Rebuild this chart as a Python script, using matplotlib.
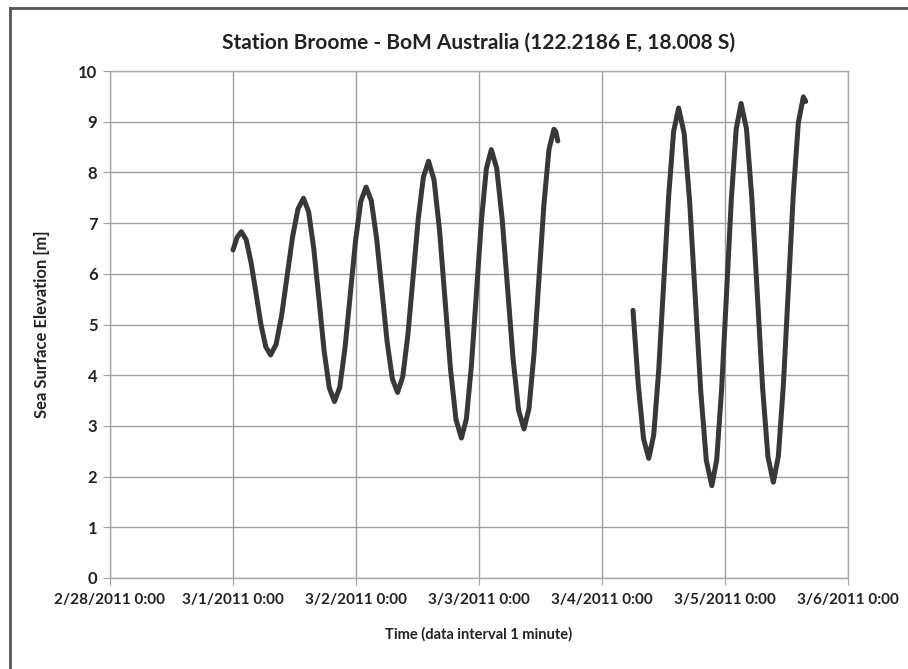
import pandas as pd
import matplotlib
matplotlib.use("Agg")
import matplotlib.pyplot as plt
from matplotlib.lines import Line2D

# Readings taken off the chart: hours since 2/28/2011 0:00, sea level in metres
seg1_hours = [24.0, 24.8, 25.63, 26.58, 27.53, 28.49, 29.44, 30.39, 31.34,
              32.41, 33.48, 34.55, 35.61, 36.68, 37.75,
              38.76, 39.77, 40.78, 41.78, 42.79, 43.80,
              44.83, 45.86, 46.89, 47.91, 48.94, 49.97,
              50.99, 52.02, 53.04, 54.06, 55.09, 56.11,
              57.12, 58.13, 59.14, 60.14, 61.15, 62.16,
              63.23, 64.30, 65.37, 66.43, 67.50, 68.57,
              69.54, 70.51, 71.49, 72.46, 73.43, 74.40,
              75.46, 76.53, 77.59, 78.65, 79.72, 80.78,
              81.75, 82.73, 83.70, 84.67, 85.65, 86.62, 87.0, 87.38]
seg1_level = [6.47, 6.72, 6.83, 6.67, 6.22, 5.62, 5.01, 4.56, 4.40,
              4.61, 5.17, 5.95, 6.72, 7.28, 7.49,
              7.22, 6.49, 5.49, 4.48, 3.75, 3.48,
              3.76, 4.54, 5.60, 6.65, 7.43, 7.71,
              7.44, 6.70, 5.69, 4.67, 3.93, 3.66,
              3.97, 4.80, 5.94, 7.08, 7.91, 8.22,
              7.85, 6.86, 5.49, 4.13, 3.13, 2.76,
              3.14, 4.18, 5.61, 7.03, 8.07, 8.45,
              8.08, 7.07, 5.70, 4.32, 3.31, 2.94,
              3.34, 4.42, 5.90, 7.37, 8.45, 8.85, 8.80, 8.62]

seg2_hours = [102.05, 103.07, 104.10, 105.12,
              106.09, 107.06, 108.04, 109.01, 109.98, 110.95,
              112.03, 113.11, 114.19, 115.27, 116.35, 117.43,
              118.38, 119.33, 120.29, 121.24, 122.19, 123.14,
              124.19, 125.24, 126.29, 127.33, 128.38, 129.43,
              130.41, 131.38, 132.36, 133.34, 134.31, 135.29, 135.75]
seg2_level = [5.28, 3.82, 2.75, 2.36,
              2.82, 4.09, 5.82, 7.54, 8.81, 9.27,
              8.77, 7.41, 5.55, 3.68, 2.32, 1.82,
              2.33, 3.71, 5.59, 7.48, 8.86, 9.36,
              8.86, 7.49, 5.63, 3.76, 2.39, 1.89,
              2.40, 3.79, 5.69, 7.59, 8.98, 9.49, 9.40]

x_tick_labels = ["2/28/2011 0:00", "3/1/2011 0:00", "3/2/2011 0:00", "3/3/2011 0:00",
                 "3/4/2011 0:00", "3/5/2011 0:00", "3/6/2011 0:00"]
y_ticks = list(range(0, 11))

base = pd.Timestamp("2011-02-28")
t1 = base + pd.to_timedelta(seg1_hours, unit="h")
t2 = base + pd.to_timedelta(seg2_hours, unit="h")
x_ticks = pd.date_range("2011-02-28", "2011-03-06", freq="D")

plt.rcParams["font.family"] = ["Lato", "DejaVu Sans"]

fig = plt.figure(figsize=(9.08, 6.69), dpi=100)
ax = fig.add_axes([110 / 908, 1 - 578 / 669, 738 / 908, 507 / 669])

line_kw = dict(color="#383838", lw=3.6, solid_capstyle="round", solid_joinstyle="round")
ax.plot(t1, seg1_level, **line_kw)
ax.plot(t2, seg2_level, **line_kw)

ax.set_xlim(x_ticks[0], x_ticks[-1])
ax.set_ylim(0, 10)
ax.set_xticks(x_ticks)
ax.set_xticklabels(x_tick_labels)
ax.set_yticks(y_ticks)

ax.grid(True, color="#a0a0a0", lw=1.0)
ax.set_axisbelow(True)
for side in ["top", "right", "left", "bottom"]:
    ax.spines[side].set_color("#a8a8a8")
    ax.spines[side].set_linewidth(1.0)

ax.tick_params(axis="both", direction="out", length=5, color="#a0a0a0",
               labelcolor="#222222")
ax.tick_params(axis="x", labelsize=11, pad=6)
ax.tick_params(axis="y", labelsize=12, pad=4)
for lab in ax.get_xticklabels() + ax.get_yticklabels():
    lab.set_fontweight("bold")

ax.set_title("Station Broome - BoM Australia (122.2186 E, 18.008 S)",
             fontsize=15, fontweight="bold", color="#222222", pad=16)
ax.set_xlabel("Time (data interval 1 minute)", fontsize=10.5, fontweight="bold",
              color="#222222", labelpad=14)
ax.set_ylabel("Sea Surface Elevation [m]", fontsize=12, fontweight="bold",
              color="#222222", labelpad=20)

# outer chart frame (only top and left edges show in the scan)
fig.add_artist(Line2D([10 / 908, 1.0], [1 - 8 / 669, 1 - 8 / 669],
                      transform=fig.transFigure, color="#555555", lw=2))
fig.add_artist(Line2D([10 / 908, 10 / 908], [0.0, 1 - 8 / 669],
                      transform=fig.transFigure, color="#555555", lw=2))

fig.savefig("out.png", dpi=100)
